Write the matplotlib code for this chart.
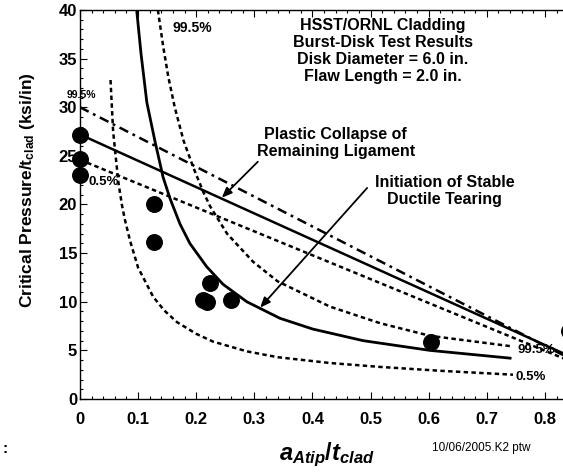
import matplotlib
matplotlib.use("Agg")
import matplotlib.pyplot as plt
from matplotlib.ticker import MultipleLocator

plt.rcParams["font.family"] = ["Liberation Sans", "DejaVu Sans"]
plt.rcParams["font.weight"] = "bold"
plt.rcParams["mathtext.fontset"] = "custom"
plt.rcParams["mathtext.rm"] = "Liberation Sans:bold"
plt.rcParams["mathtext.it"] = "Liberation Sans:bold:italic"
plt.rcParams["mathtext.bf"] = "Liberation Sans:bold"
plt.rcParams["lines.scale_dashes"] = False

# Burst-disk test results
test_a = [0.0, 0.0, 0.0, 0.127, 0.128, 0.211, 0.219, 0.224, 0.259, 0.604, 0.842]
test_p = [27.1, 24.7, 23.0, 20.0, 16.1, 10.2, 10.0, 11.9, 10.2, 5.9, 7.0]

# Plastic collapse of remaining ligament (mean, 99.5%, 0.5%)
pc_a    = [0.0, 0.835]
pc_mean = [27.2, 4.6]
pc_hi   = [30.0, 4.4]
pc_lo   = [24.6, 4.1]

# Initiation of stable ductile tearing (mean)
init_a = [0.0975, 0.105, 0.115, 0.129, 0.143, 0.155, 0.172, 0.189, 0.218,
          0.246, 0.287, 0.344, 0.400, 0.487, 0.602, 0.740]
init_p = [40.0, 35.5, 30.5, 26.5, 22.8, 20.6, 18.0, 16.0, 13.6,
          11.8, 10.0, 8.3, 7.2, 6.0, 5.0, 4.2]

# 99.5% bound
hi_a = [0.134, 0.143, 0.152, 0.163, 0.178, 0.195, 0.212, 0.224, 0.253,
        0.298, 0.340, 0.430, 0.516, 0.602, 0.745]
hi_p = [40.0, 36.3, 33.1, 30.0, 26.6, 23.8, 21.3, 19.8, 17.0,
        14.1, 12.1, 9.5, 7.8, 6.5, 5.4]

# 0.5% bound
lo_a = [0.0525, 0.057, 0.066, 0.072, 0.077, 0.086, 0.100, 0.126, 0.145,
        0.167, 0.200, 0.229, 0.287, 0.340, 0.430, 0.516, 0.620, 0.745]
lo_p = [32.8, 27.5, 22.3, 20.0, 18.5, 16.3, 13.5, 10.5, 9.1,
        7.9, 6.7, 5.9, 4.9, 4.3, 3.7, 3.3, 2.9, 2.5]

W, H = 563, 476
fig = plt.figure(figsize=(W / 100, H / 100), dpi=100)
ax = fig.add_axes([80 / W, 1 - 399 / H, 1 - 80 / W, (399 - 10) / H])

dotted = (0, (3.2, 2.4))
dashdot = (0, (7, 3.5, 2, 3.5))
lw = 1.8

ax.plot(pc_a, pc_mean, color="black", lw=lw)
ax.plot(pc_a, pc_hi, color="black", lw=lw, linestyle=dashdot)
ax.plot(pc_a, pc_lo, color="black", lw=lw, linestyle=dotted)
ax.plot(init_a, init_p, color="black", lw=2.0)
ax.plot(hi_a, hi_p, color="black", lw=lw, linestyle=dotted)
ax.plot(lo_a, lo_p, color="black", lw=lw, linestyle=dotted)
ax.scatter(test_a, test_p, s=125, color="black", zorder=5, clip_on=False)

ax.set_xlim(0, 0.831)
ax.set_ylim(0, 40)
ax.xaxis.set_minor_locator(MultipleLocator(0.02))
ax.yaxis.set_major_locator(MultipleLocator(5))
ax.yaxis.set_minor_locator(MultipleLocator(1))
ax.set_xticks([0, 0.1, 0.2, 0.3, 0.4, 0.5, 0.6, 0.7, 0.8])
ax.set_xticklabels(["0", "0.1", "0.2", "0.3", "0.4", "0.5", "0.6", "0.7", "0.8"])
ax.tick_params(which="both", direction="in", top=True, right=False, width=0.8)
ax.tick_params(which="major", length=5, labelsize=12)
ax.tick_params(which="minor", length=2.5)
ax.tick_params(axis="x", pad=9)
ax.tick_params(axis="y", pad=2)
ax.spines["right"].set_visible(False)
for s in ["left", "bottom", "top"]:
    ax.spines[s].set_linewidth(1.0)

# curve labels
ax.text(0.194, 38.2, "99.5%", fontsize=10, ha="center", va="center")
ax.text(0.002, 31.3, "99.5%", fontsize=7.5, ha="center", va="center")
ax.text(0.041, 22.3, "0.5%", fontsize=9.5, ha="center", va="center")
ax.text(0.752, 5.0, "99.5%", fontsize=9.5, ha="left", va="center")
ax.text(0.749, 2.3, "0.5%", fontsize=9.5, ha="left", va="center")

ax.text(0.521, 35.8, "HSST/ORNL Cladding\nBurst-Disk Test Results\n"
        "Disk Diameter = 6.0 in.\nFlaw Length = 2.0 in.",
        fontsize=11.5, ha="center", va="center", linespacing=1.15)
ax.text(0.44, 26.3, "Plastic Collapse of\nRemaining Ligament",
        fontsize=11.5, ha="center", va="center", linespacing=1.15)
ax.text(0.627, 21.4, "Initiation of Stable\nDuctile Tearing",
        fontsize=11.5, ha="center", va="center", linespacing=1.15)

arrow = dict(arrowstyle="-|>,head_length=0.6,head_width=0.25", color="black", lw=1.3,
             shrinkA=0, shrinkB=0)
ax.annotate("", xy=(0.244, 20.7), xytext=(0.306, 24.4), arrowprops=arrow)
ax.annotate("", xy=(0.31, 9.4), xytext=(0.494, 21.7), arrowprops=arrow)

fig.text(28 / W, 1 - 190 / H, r"Critical Pressure/t$_{\mathrm{clad}}$ (ksi/in)",
         rotation=90, fontsize=12.5, ha="center", va="center")
fig.text(327 / W, 1 - 455 / H, r"$a_{Atip}/t_{clad}$", fontsize=17,
         ha="center", va="center")
fig.text(481 / W, 1 - 448 / H, "10/06/2005.K2 ptw", fontsize=8.5,
         fontweight="normal", ha="center", va="center")
fig.text(5 / W, 1 - 449 / H, ":", fontsize=11, ha="center", va="center")

fig.savefig("out.png", dpi=100)
